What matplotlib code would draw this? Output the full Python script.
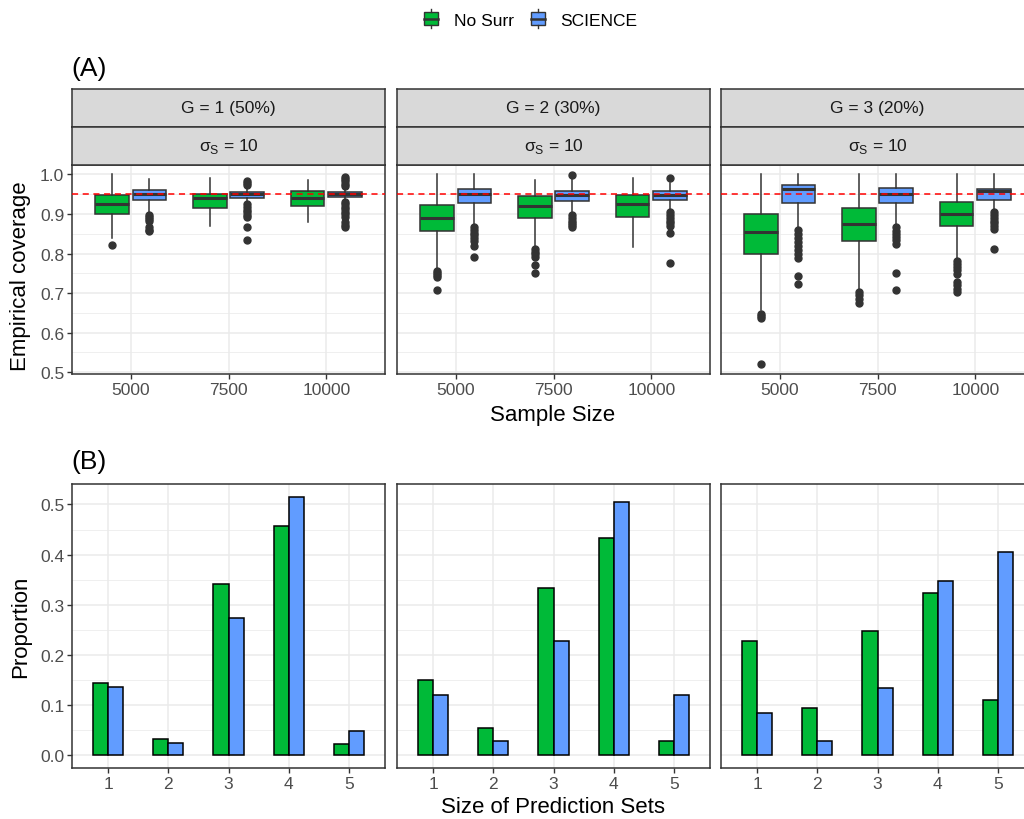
import matplotlib
matplotlib.use("Agg")
import matplotlib.pyplot as plt
from matplotlib.patches import Rectangle
from matplotlib.lines import Line2D
from matplotlib.legend_handler import HandlerBase
import numpy as np

plt.rcParams["font.family"] = ["Liberation Sans", "DejaVu Sans"]

W, H = 1024, 820
GREEN = "#00BA38"
BLUE = "#619CFF"
DARK = "#333333"
GRID = "#EBEBEB"
TICK_FS = 12.5
TITLE_FS = 16

METHODS = ["No Surr", "SCIENCE"]
GROUPS = ["G = 1 (50%)", "G = 2 (30%)", "G = 3 (20%)"]
SAMPLE_SIZES = ["5000", "7500", "10000"]
SET_SIZES = [1, 2, 3, 4, 5]

# box stats per group, per sample size: [whislo, q1, median, q3, whishi]
BOX_NOSURR = [
    [[0.840, 0.899, 0.926, 0.948, 1.000], [0.870, 0.916, 0.940, 0.951, 0.990], [0.879, 0.920, 0.940, 0.957, 0.985]],
    [[0.761, 0.858, 0.889, 0.922, 1.000], [0.816, 0.889, 0.920, 0.944, 0.986], [0.817, 0.891, 0.925, 0.949, 0.990]],
    [[0.657, 0.799, 0.854, 0.901, 1.000], [0.707, 0.832, 0.874, 0.916, 1.000], [0.786, 0.869, 0.900, 0.929, 1.000]],
]
BOX_SCIENCE = [
    [[0.904, 0.935, 0.951, 0.960, 0.987], [0.933, 0.941, 0.950, 0.956, 0.967], [0.935, 0.943, 0.950, 0.956, 0.965]],
    [[0.874, 0.927, 0.951, 0.964, 1.000], [0.904, 0.932, 0.947, 0.957, 0.987], [0.910, 0.936, 0.949, 0.957, 0.979]],
    [[0.866, 0.928, 0.964, 0.973, 1.000], [0.872, 0.928, 0.950, 0.966, 1.000], [0.908, 0.936, 0.957, 0.963, 1.000]],
]
FLIERS_NOSURR = [
    [[0.822], [], []],
    [[0.757, 0.750, 0.745, 0.740, 0.709], [0.812, 0.805, 0.798, 0.791, 0.770, 0.750], []],
    [[0.648, 0.642, 0.636, 0.520], [0.703, 0.695, 0.686, 0.676], [0.782, 0.774, 0.766, 0.758, 0.749, 0.728, 0.720, 0.710, 0.703]],
]
FLIERS_SCIENCE = [
    [[0.898, 0.893, 0.887, 0.882, 0.868, 0.860, 0.856],
     [0.983, 0.978, 0.972, 0.925, 0.918, 0.911, 0.905, 0.898, 0.892, 0.868, 0.835],
     [0.994, 0.988, 0.982, 0.976, 0.971, 0.930, 0.924, 0.918, 0.912, 0.906, 0.900, 0.893, 0.880, 0.873, 0.866]],
    [[0.866, 0.860, 0.853, 0.846, 0.839, 0.832, 0.820, 0.791],
     [0.998, 0.897, 0.890, 0.883, 0.877, 0.871, 0.866],
     [0.990, 0.904, 0.897, 0.890, 0.883, 0.877, 0.870, 0.852, 0.776]],
    [[0.859, 0.850, 0.840, 0.830, 0.820, 0.810, 0.800, 0.789, 0.743, 0.722],
     [0.866, 0.858, 0.850, 0.842, 0.833, 0.824, 0.751, 0.709],
     [0.904, 0.897, 0.890, 0.883, 0.876, 0.869, 0.862, 0.812]],
]

PROP_NOSURR = [
    [0.144, 0.033, 0.341, 0.458, 0.023],
    [0.150, 0.055, 0.333, 0.433, 0.028],
    [0.227, 0.093, 0.248, 0.323, 0.109],
]
PROP_SCIENCE = [
    [0.136, 0.025, 0.274, 0.515, 0.049],
    [0.120, 0.028, 0.227, 0.505, 0.119],
    [0.083, 0.029, 0.133, 0.347, 0.405],
]

PANEL_X = [(72, 385), (397, 710), (721, 1034)]


def px_rect(x0, y0, x1, y1):
    return [x0 / W, 1 - y1 / H, (x1 - x0) / W, (y1 - y0) / H]


def style_axes(ax, major, minor, show_y):
    ax.set_facecolor("white")
    for spine in ax.spines.values():
        spine.set_color(DARK)
        spine.set_linewidth(1.1)
    ax.set_yticks(major)
    ax.set_yticks(minor, minor=True)
    ax.grid(which="major", color=GRID, lw=1.1)
    ax.grid(which="minor", axis="y", color=GRID, lw=0.55)
    ax.set_axisbelow(True)
    ax.tick_params(colors=DARK, labelcolor="#4D4D4D", length=3.5, width=1.0, labelsize=TICK_FS, pad=2)
    ax.tick_params(which="minor", length=0)
    if not show_y:
        ax.tick_params(axis="y", length=0, labelleft=False)


def box_stats(row, fliers):
    lo, q1, med, q3, hi = row
    return {"whislo": lo, "q1": q1, "med": med, "q3": q3, "whishi": hi, "fliers": fliers}


class BoxKey(HandlerBase):
    def create_artists(self, legend, orig_handle, xdescent, ydescent, width, height, fontsize, trans):
        cx = -xdescent + width / 2
        bw, bh = width * 0.8, height * 0.8
        y0 = -ydescent + (height - bh) / 2
        rect = Rectangle((cx - bw / 2, y0), bw, bh, facecolor=orig_handle.get_facecolor(),
                         edgecolor=DARK, lw=1.0, transform=trans)
        med = Line2D([cx - bw / 2, cx + bw / 2], [y0 + bh / 2] * 2, color=DARK, lw=1.8, transform=trans)
        up = Line2D([cx, cx], [y0 + bh, y0 + bh + height * 0.18], color=DARK, lw=1.0, transform=trans)
        dn = Line2D([cx, cx], [y0, y0 - height * 0.18], color=DARK, lw=1.0, transform=trans)
        return [rect, med, up, dn]


fig = plt.figure(figsize=(W / 100, H / 100), dpi=100)

top_major = np.arange(0.5, 1.01, 0.1)
top_minor = np.arange(0.55, 1.0, 0.1)
bot_major = np.arange(0.0, 0.51, 0.1)
bot_minor = np.arange(0.05, 0.55, 0.1)

for g, (x0, x1) in enumerate(PANEL_X):
    # panel A
    ax = fig.add_axes(px_rect(x0, 166, x1, 375))
    style_axes(ax, top_major, top_minor, g == 0)
    pos = np.arange(1, len(SAMPLE_SIZES) + 1)
    for boxes, fliers, color, shift in [(BOX_NOSURR[g], FLIERS_NOSURR[g], GREEN, -0.19),
                                        (BOX_SCIENCE[g], FLIERS_SCIENCE[g], BLUE, 0.19)]:
        stats = [box_stats(b, f) for b, f in zip(boxes, fliers)]
        ax.bxp(stats, positions=pos + shift, widths=0.34, patch_artist=True, showcaps=False,
               boxprops=dict(facecolor=color, edgecolor=DARK, lw=1.1),
               medianprops=dict(color=DARK, lw=2.2),
               whiskerprops=dict(color=DARK, lw=1.1),
               flierprops=dict(marker="o", markerfacecolor=DARK, markeredgecolor=DARK, markersize=5))
    ax.axhline(0.95, color="red", ls=(0, (4, 3)), lw=1.1, zorder=5)
    ax.set_xlim(0.4, 3.6)
    ax.set_ylim(0.4957, 1.0235)
    ax.set_xticks(pos)
    ax.set_xticklabels(SAMPLE_SIZES)
    ax.xaxis.grid(True, which="major", color=GRID, lw=1.1)
    if g == 0:
        ax.set_yticklabels([f"{v:.1f}" for v in top_major])

    # strips
    for (sy0, sy1), label in [((90, 128), GROUPS[g]), ((128, 166), r"σ$_{\mathregular{S}}$ = 10")]:
        sax = fig.add_axes(px_rect(x0, sy0, x1, sy1))
        sax.set_facecolor("#D9D9D9")
        sax.set_xticks([])
        sax.set_yticks([])
        for spine in sax.spines.values():
            spine.set_color(DARK)
            spine.set_linewidth(1.1)
        sax.text(0.5, 0.5, label, ha="center", va="center", fontsize=TICK_FS, color="#1A1A1A",
                 transform=sax.transAxes)

    # panel B
    bx = fig.add_axes(px_rect(x0, 485, x1, 769))
    style_axes(bx, bot_major, bot_minor, g == 0)
    xs = np.array(SET_SIZES)
    bx.bar(xs - 0.125, PROP_NOSURR[g], 0.25, color=GREEN, edgecolor="black", lw=1.1, zorder=3)
    bx.bar(xs + 0.125, PROP_SCIENCE[g], 0.25, color=BLUE, edgecolor="black", lw=1.1, zorder=3)
    bx.set_xlim(0.4, 5.6)
    bx.set_ylim(-0.0258, 0.5408)
    bx.set_xticks(xs)
    bx.set_xticklabels([str(s) for s in SET_SIZES])
    if g == 0:
        bx.set_yticklabels([f"{v:.1f}" for v in bot_major])

fig.text(71 / W, 1 - 69 / H, "(A)", fontsize=19, ha="left", va="center", color="black")
fig.text(71 / W, 1 - 462 / H, "(B)", fontsize=19, ha="left", va="center", color="black")
fig.text(553 / W, 1 - 416 / H, "Sample Size", fontsize=TITLE_FS, ha="center", va="center")
fig.text(553 / W, 1 - 808 / H, "Size of Prediction Sets", fontsize=TITLE_FS, ha="center", va="center")
fig.text(21 / W, 1 - 276 / H, "Empirical coverage", fontsize=TITLE_FS, rotation=90, ha="center", va="center")
fig.text(21 / W, 1 - 627 / H, "Proportion", fontsize=TITLE_FS, rotation=90, ha="center", va="center")

handles = [Rectangle((0, 0), 1, 1, facecolor=GREEN), Rectangle((0, 0), 1, 1, facecolor=BLUE)]
fig.legend(handles, METHODS, loc="center", bbox_to_anchor=(530 / W, 1 - 20 / H), ncol=2,
           frameon=False, fontsize=TICK_FS, handlelength=1.0, handleheight=1.1, handletextpad=0.8,
           columnspacing=0.9, handler_map={Rectangle: BoxKey()})

fig.savefig("out.png", dpi=100)
